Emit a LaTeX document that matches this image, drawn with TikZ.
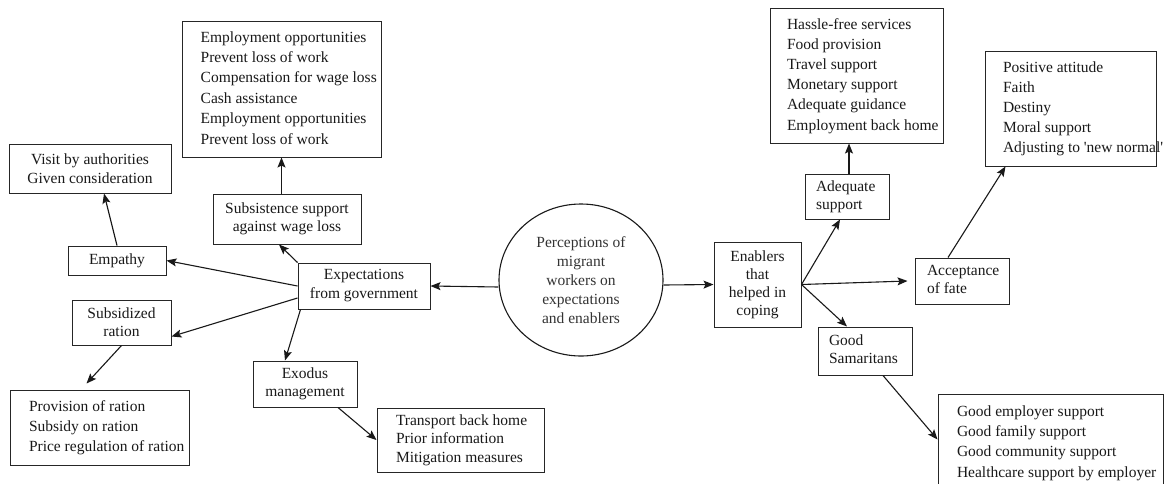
\documentclass[tikz,border=0pt]{standalone}
\usepackage{fontspec}
\setmainfont{Liberation Serif}
\usetikzlibrary{arrows.meta,shapes.geometric}
\newcommand{\lbox}[3]{\makebox[#2][l]{\hspace*{#1}\begin{tabular}{@{}l@{}}#3\end{tabular}}}
\begin{document}
\begin{tikzpicture}[x=1pt,y=-1pt,
  bx/.style={draw=black!85, line width=1pt, inner sep=0pt, text=black!90},
  fs/.style={font=\fontsize{15.5}{#1}\selectfont},
  arr/.style={-{Stealth[length=10pt,width=8pt,inset=2pt]}, line width=1.1pt, draw=black!90}]
\useasboundingbox (0,0) rectangle (1167,483);
\clip (0,0) rectangle (1167,483);
\fill[white] (0,0) rectangle (1167,483);

% left side
\node[bx, fs=20.4, minimum width=199pt, minimum height=136pt] (emp) at (281.5,89)
  {\lbox{18.7pt}{199pt}{Employment opportunities\\Prevent loss of work\\Compensation for wage loss\\Cash assistance\\Employment opportunities\\Prevent loss of work}};
\node[bx, fs=18.5, align=center, minimum width=148pt, minimum height=50pt] (subs) at (287,219) {Subsistence support\\against wage loss};
\node[bx, fs=18.5, align=center, minimum width=162pt, minimum height=49pt] (visit) at (90,168.5) {Visit by authorities\\Given consideration};
\node[bx, fs=18, align=center, minimum width=98pt, minimum height=29pt] (empy) at (117,260.5) {Empathy};
\node[bx, fs=18, align=center, minimum width=99pt, minimum height=45pt] (subr) at (121.5,322.5) {Subsidized\\ration};
\node[bx, fs=20, minimum width=179pt, minimum height=75pt] (prov) at (99.5,427.5)
  {\lbox{19pt}{179pt}{Provision of ration\\Subsidy on ration\\Price regulation of ration}};
\node[bx, fs=19, align=center, minimum width=132pt, minimum height=46pt] (expg) at (364,286) {Expectations\\from government};
\node[bx, fs=18, align=center, minimum width=104pt, minimum height=46pt] (exod) at (305,384) {Exodus\\management};
\node[bx, fs=18.5, minimum width=167pt, minimum height=64pt] (trans) at (460.5,440)
  {\lbox{19pt}{167pt}{Transport back home\\Prior information\\Mitigation measures}};

% centre
\node[ellipse, draw=black!90, line width=1.1pt, inner sep=0pt, fs=19, align=center, text=black!80,
  minimum width=164pt, minimum height=152pt] (circ) at (581,280)
  {Perceptions of\\migrant\\workers on\\expectations\\and enablers};

% right side
\node[bx, fs=18, align=center, minimum width=87pt, minimum height=85pt] (enab) at (757.5,284.5) {Enablers\\that\\helped in\\coping};
\node[bx, fs=18, minimum width=84pt, minimum height=45pt] (adeq) at (847,196.5)
  {\lbox{11pt}{84pt}{Adequate\\support}};
\node[bx, fs=20.2, minimum width=173pt, minimum height=135pt] (hassle) at (856.5,75.5)
  {\lbox{17pt}{173pt}{Hassle-free services\\Food provision\\Travel support\\Monetary support\\Adequate guidance\\Employment back home}};
\node[bx, fs=18, minimum width=94pt, minimum height=46pt] (accept) at (962,281)
  {\lbox{12pt}{94pt}{Acceptance\\of fate}};
\node[bx, fs=20.2, minimum width=171pt, minimum height=115pt] (pos) at (1070.5,108.5)
  {\lbox{18pt}{171pt}{Positive attitude\\Faith\\Destiny\\Moral support\\Adjusting to \textquotesingle new normal\textquotesingle}};
\node[bx, fs=17.5, minimum width=94pt, minimum height=48pt] (gsam) at (865,351)
  {\lbox{11pt}{94pt}{Good\\Samaritans}};
\node[bx, fs=20.3, minimum width=225pt, minimum height=97pt] (gemp) at (1050.5,442.5)
  {\lbox{19pt}{225pt}{Good employer support\\Good family support\\Good community support\\Healthcare support by employer}};

% connectors
\draw[arr] ([yshift=-7pt]circ.west) -- (expg.east);
\draw[arr] ([yshift=-5pt]circ.east) -- (enab.west);
\draw[arr] (expg.west) -- (empy.east);
\draw[arr] (expg.north west) -- ([xshift=-8pt]subs.south);
\draw[arr] ([yshift=-12pt]expg.west) -- ([yshift=-14pt]subr.east);
\draw[arr] ([xshift=3pt]expg.south west) -- ([xshift=-20pt]exod.north);
\draw[arr] (emp.south |- subs.north) -- (emp.south);
\draw[arr] (empy.north) -- ([xshift=14pt]visit.south);
\draw[arr] (subr.south) -- ([xshift=-13pt,yshift=6pt]prov.north);
\draw[arr] ([xshift=33pt]exod.south) -- (trans.west);
\draw[arr] (enab.east) -- ([xshift=-7pt]adeq.south);
\draw[arr] (enab.east) -- ([xshift=-7pt]accept.west);
\draw[arr] (enab.east) -- ([xshift=-18pt]gsam.north);
\draw[arr] ([xshift=2pt]adeq.north) -- ([xshift=2pt]adeq.north |- hassle.south);
\draw[arr] ([xshift=-14pt]accept.north) -- ([xshift=21pt]pos.south west);
\draw[arr] ([xshift=18pt]gsam.south) -- ([yshift=-46pt]gemp.north west);
\end{tikzpicture}
\end{document}
